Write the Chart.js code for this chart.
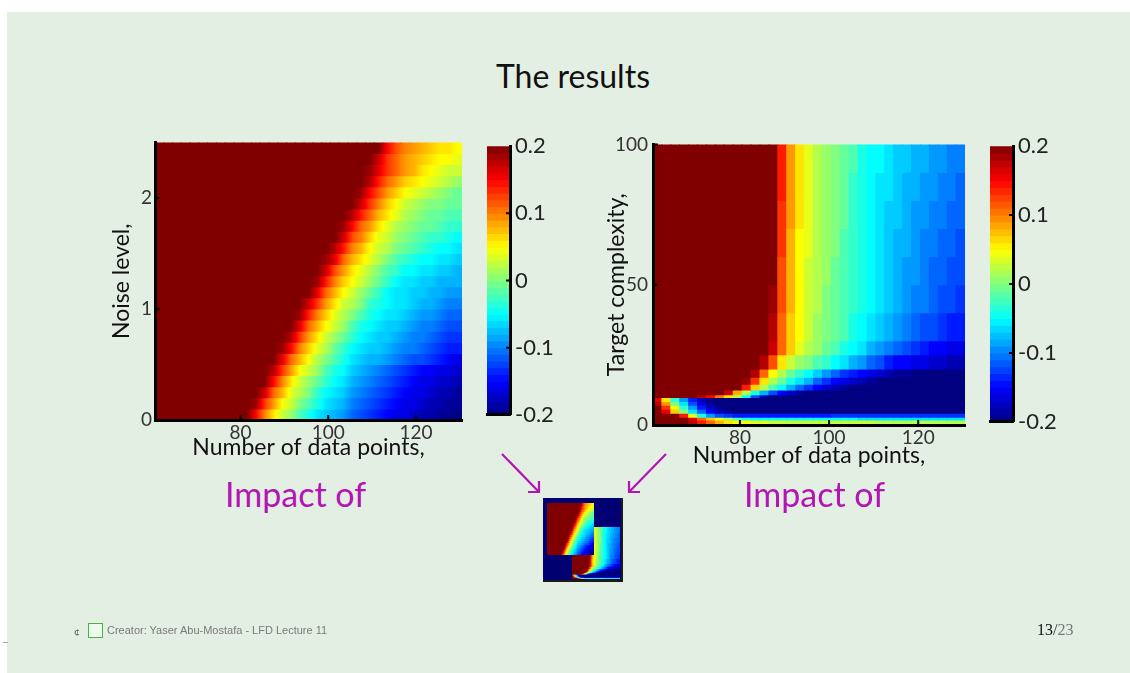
<!DOCTYPE html>
<html>
<head>
<meta charset="utf-8">
<title>The results</title>
<script src="https://cdn.jsdelivr.net/npm/chart.js@4.4.1/dist/chart.umd.min.js"></script>
<style>
  html, body { margin: 0; padding: 0; background: #fff; }
  body { position: relative; width: 1130px; height: 673px; overflow: hidden; font-family: Lato, sans-serif; }
  #slide { position: absolute; left: 7px; top: 12px; width: 1123px; height: 661px; background: #e4efe3; }
  canvas, .txt, svg, .box { position: absolute; }
  .txt { white-space: nowrap; line-height: 1; }
  .impact { color: #b414b4; font-size: 34px; top: 477px; }
</style>
</head>
<body>
<div id="slide"></div>
<div class="txt" style="left:473px;top:60px;width:200px;text-align:center;font-size:32px;color:#111">The results</div>

<canvas id="leftMap" width="372" height="340" style="left:95px;top:128px"></canvas>
<canvas id="leftBar" width="80" height="305" style="left:480px;top:128px"></canvas>
<canvas id="rightMap" width="380" height="350" style="left:590px;top:128px"></canvas>
<canvas id="rightBar" width="85" height="312" style="left:983px;top:128px"></canvas>

<div class="txt impact" style="left:225px">Impact of</div>
<div class="txt impact" style="left:744px">Impact of</div>

<svg width="1130" height="673" style="left:0;top:0">
  <g stroke="#b414b4" stroke-width="2.2" fill="none">
    <path d="M502 454 L539 492 M528 492 L539 492 L539 481"/>
    <path d="M666 454 L629 492 M640 492 L629 492 L629 481"/>
  </g>
</svg>

<div class="box" style="left:543px;top:498px;width:78px;height:82px;background:#000073;border-right:2px solid #1a1a1a;border-bottom:2px solid #1a1a1a"></div>
<canvas id="rightMini" width="48" height="52" style="left:572px;top:527px"></canvas>
<canvas id="leftMini" width="47" height="52" style="left:547px;top:503px"></canvas>

<div class="box" style="left:3px;top:642px;width:5px;height:1px;background:#aaa"></div>
<div class="txt" style="left:74px;top:626px;font-size:10px;color:#555">¢</div>
<div class="box" style="left:88px;top:623px;width:13px;height:13px;border:1.5px solid #4cae4c;background:#ecfcec"></div>
<div class="txt" style="left:107px;top:625px;font-size:11px;color:#7a7a7a;font-family:'Liberation Sans'">Creator: Yaser Abu-Mostafa - LFD Lecture 11</div>
<div class="txt" style="left:1037px;top:622px;font-size:16px;font-family:'Liberation Serif';color:#111">13<span style="color:#333">/</span><span style="color:#777">23</span></div>

<script>
// Number of data points: centres of the 2-point wide columns
const N_CENTERS = [61.5, 63.5, 65.5, 67.5, 69.5, 71.5, 73.5, 75.5, 77.5, 79.5, 81.5, 83.5,
  85.5, 87.5, 89.5, 91.5, 93.5, 95.5, 97.5, 99.5, 101.5, 103.5, 105.5, 107.5, 109.5,
  111.5, 113.5, 115.5, 117.5, 119.5, 121.5, 123.5, 125.5, 127.5, 129.5];
const N_TICKS = [80, 100, 120];

// Noise level rows (edges), bottom row first
const NOISE_EDGES = [0, 0.1, 0.2, 0.3, 0.4, 0.5, 0.6, 0.7, 0.8, 0.9, 1, 1.1, 1.2, 1.3,
  1.4, 1.5, 1.6, 1.7, 1.8, 1.9, 2, 2.1, 2.2, 2.3, 2.4, 2.5];
const NOISE_TICKS = [0, 1, 2];

// Overfit measure x100 for each noise row (one value per column), bottom row first
const NOISE_ROWS = [
  [20,20,20,20,20, 20,20,20,20,20, 20, 15,10,6,3,1,-2,-4,-6,-7,-8,-9,-11,-12,-13,-14,-15,-16,-16,-17,-18,-18,-19,-19,-20],
  [20,20,20,20,20, 20,20,20,20,20, 20, 19,13,9,5,3,0,-2,-4,-6,-7,-8,-10,-11,-12,-13,-14,-15,-16,-16,-17,-18,-18,-19,-19],
  [20,20,20,20,20, 20,20,20,20,20, 20,20, 17,11,8,4,2,0,-3,-5,-6,-7,-9,-10,-11,-12,-13,-14,-15,-16,-16,-17,-18,-18,-19],
  [20,20,20,20,20, 20,20,20,20,20, 20,20,20, 15,10,6,3,1,-1,-3,-5,-6,-8,-9,-10,-11,-12,-13,-14,-15,-16,-16,-17,-17,-18],
  [20,20,20,20,20, 20,20,20,20,20, 20,20,20, 18,13,9,5,3,1,-2,-4,-5,-7,-8,-9,-10,-11,-12,-13,-14,-15,-15,-16,-16,-17],
  [20,20,20,20,20, 20,20,20,20,20, 20,20,20,20, 16,11,8,5,2,0,-2,-4,-6,-7,-8,-8,-9,-10,-11,-12,-12,-13,-14,-15,-16],
  [20,20,20,20,20, 20,20,20,20,20, 20,20,20,20, 19,15,10,7,4,2,-1,-3,-5,-6,-7,-7,-8,-9,-10,-10,-11,-12,-13,-14,-14],
  [20,20,20,20,20, 20,20,20,20,20, 20,20,20,20,20, 18,13,9,6,3,1,-1,-3,-5,-6,-7,-7,-8,-9,-10,-10,-11,-12,-13,-13],
  [20,20,20,20,20, 20,20,20,20,20, 20,20,20,20,20, 20, 16,11,8,5,3,1,-2,-4,-5,-6,-7,-7,-8,-9,-10,-10,-11,-12,-12],
  [20,20,20,20,20, 20,20,20,20,20, 20,20,20,20,20, 20, 19,14,10,7,4,2,0,-2,-4,-5,-6,-6,-7,-8,-9,-9,-10,-11,-11],
  [20,20,20,20,20, 20,20,20,20,20, 20,20,20,20,20, 20,20, 17,13,9,6,3,2,0,-3,-4,-5,-6,-6,-7,-8,-8,-9,-10,-10],
  [20,20,20,20,20, 20,20,20,20,20, 20,20,20,20,20, 20,20,20, 16,11,8,5,3,1,-1,-3,-5,-6,-6,-7,-7,-8,-8,-9,-9],
  [20,20,20,20,20, 20,20,20,20,20, 20,20,20,20,20, 20,20,20, 19,14,10,7,5,3,1,-1,-3,-5,-6,-6,-7,-7,-8,-8,-8],
  [20,20,20,20,20, 20,20,20,20,20, 20,20,20,20,20, 20,20,20,20, 17,12,9,6,4,2,0,-2,-3,-5,-5,-6,-6,-7,-7,-8],
  [20,20,20,20,20, 20,20,20,20,20, 20,20,20,20,20, 20,20,20,20, 19,16,11,8,6,4,2,0,-2,-3,-4,-5,-5,-6,-6,-7],
  [20,20,20,20,20, 20,20,20,20,20, 20,20,20,20,20, 20,20,20,20,20, 18,14,10,8,5,3,2,0,-1,-2,-3,-4,-5,-5,-6],
  [20,20,20,20,20, 20,20,20,20,20, 20,20,20,20,20, 20,20,20,20,20, 20, 17,12,10,7,4,3,1,0,-1,-2,-3,-3,-4,-5],
  [20,20,20,20,20, 20,20,20,20,20, 20,20,20,20,20, 20,20,20,20,20, 20, 19,15,11,9,6,4,2,1,0,-1,-1,-2,-3,-3],
  [20,20,20,20,20, 20,20,20,20,20, 20,20,20,20,20, 20,20,20,20,20, 20,20, 18,14,11,8,6,4,2,1,0,-1,-1,-2,-2],
  [20,20,20,20,20, 20,20,20,20,20, 20,20,20,20,20, 20,20,20,20,20, 20,20,20, 17,13,10,7,5,3,2,1,0,0,-1,-1],
  [20,20,20,20,20, 20,20,20,20,20, 20,20,20,20,20, 20,20,20,20,20, 20,20,20, 19,15,12,9,7,5,4,3,2,1,0,-1],
  [20,20,20,20,20, 20,20,20,20,20, 20,20,20,20,20, 20,20,20,20,20, 20,20,20,20, 18,14,11,9,7,6,5,4,3,2,1],
  [20,20,20,20,20, 20,20,20,20,20, 20,20,20,20,20, 20,20,20,20,20, 20,20,20,20, 19,16,13,11,9,8,6,5,4,3,3],
  [20,20,20,20,20, 20,20,20,20,20, 20,20,20,20,20, 20,20,20,20,20, 20,20,20,20,20, 17,13,11,9,8,7,6,5,5,4],
  [20,20,20,20,20, 20,20,20,20,20, 20,20,20,20,20, 20,20,20,20,20, 20,20,20,20,20, 20, 15,12,10,9,8,7,6,6,5],
];

// Target complexity rows (edges), bottom row first
const COMPLEXITY_EDGES = [0, 1.8, 2.8, 4.2, 5.6, 7, 8.4, 9.8, 10.8, 12.5, 14.5, 17, 20,
  25, 30, 40, 50, 60, 70, 80, 90, 100];
const COMPLEXITY_TICKS = [0, 50, 100];

const COMPLEXITY_ROWS = [
  [20,20,20,20, 18,14,11,8,6,5,5,4,4,3, 3,3,3,3,3,3,3,3,3,3,3, 2,2,2,2,2,2,2,2,2,2],
  [20,20,20,20, 16,11,7,4,1,-2,-4, -5,-5,-5,-5,-5,-5,-5,-5,-5,-5,-5,-5, -6,-6,-6,-6,-6,-6,-6,-6,-6,-6,-6,-6],
  [20,20,20, 14,4,-4,-9,-12,-13, -14,-14,-14,-14,-14,-14,-14,-14,-14,-14,-14, -13,-13,-13,-13,-13,-13,-13,-13,-13,-13,-13,-13,-13,-13,-13],
  [20,16,7,0,-6,-11,-15,-18,-19, -20,-20,-20,-20,-20,-20,-20,-20,-20,-20,-20,-20,-20,-20,-20,-20,-20,-20,-20,-20,-20,-20,-20,-20,-20,-20],
  [20,13,4,-3,-9,-14,-17,-19, -20,-20,-20,-20,-20,-20,-20,-20,-20,-20,-20,-20,-20,-20,-20,-20,-20,-20,-20,-20,-20,-20,-20,-20,-20,-20,-20],
  [18,9,0,-6,-12,-16,-19, -20,-20,-20,-20,-20,-20,-20,-20,-20,-20,-20,-20,-20,-20,-20,-20,-20,-20,-20,-20,-20,-20,-20,-20,-20,-20,-20,-20],
  [16,6,-3,-9,-14,-18, -20,-20,-20,-20,-20,-20,-20,-20,-20,-20,-20,-20,-20,-20,-20,-20,-20,-20,-20,-20,-20,-20,-20,-20,-20,-20,-20,-20,-20],
  [20,20,20,20,20, 18,15,10,6,2,-5,-12,-18, -20,-20,-20,-20,-20,-20,-20,-20,-20,-20,-20,-20,-20,-20,-20,-20,-20,-20,-20,-20,-20,-20],
  [20,20,20,20,20,20,20,20, 17,8,2,-4,-8,-12,-15,-17,-19, -20,-20,-20,-20,-20,-20,-20,-20,-20,-20,-20,-20,-20,-20,-20,-20,-20,-20],
  [20,20,20,20,20,20,20,20,20,20, 14,7,2,-2,-5,-8,-11,-13,-15,-17,-18,-19, -20,-20,-20,-20,-20,-20,-20,-20,-20,-20,-20,-20,-20],
  [20,20,20,20,20,20,20,20,20,20, 19,13,6,2,-1,-4,-6,-8,-11,-13,-15,-16,-17,-18,-19, -20,-20,-20,-20,-20,-20,-20,-20,-20,-20],
  [20,20,20,20,20,20,20,20,20,20,20, 18,11,5,2,-1,-3,-5,-7,-9,-11,-13,-14,-15,-16,-17,-18,-19,-19, -20,-20,-20,-20,-20,-20],
  [20,20,20,20,20,20,20,20,20,20,20,20, 18,12,6,3,1,0,-2,-3,-5,-6,-8,-9,-11,-12,-14,-15,-15,-16,-16,-17,-17,-18,-18],
  [20,20,20,20,20,20,20,20,20,20,20,20,20, 17,11,7,4,2,1,-1,-2,-4,-5,-6,-8,-9,-10,-11,-12,-13,-14,-15,-15,-16,-16],
  [20,20,20,20,20,20,20,20,20,20,20,20,20, 18,11,7,5,3,1,0,-1,-2,-4,-5,-6,-7,-8,-9,-10,-11,-12,-12,-13,-14,-14],
  [20,20,20,20,20,20,20,20,20,20,20,20,20, 19,12,8,5,3,2,0,-1,-2,-3,-4,-5,-6,-7,-8,-9,-10,-10,-11,-12,-12,-13],
  [20,20,20,20,20,20,20,20,20,20,20,20,20,20, 12,8,5,3,2,1,-1,-2,-3,-4,-5,-6,-7,-8,-9,-9,-10,-11,-11,-12,-12],
  [20,20,20,20,20,20,20,20,20,20,20,20,20,20, 13,8,5,4,2,1,0,-2,-3,-4,-5,-6,-7,-8,-8,-9,-10,-10,-11,-11,-12],
  [20,20,20,20,20,20,20,20,20,20,20,20,20,20, 13,9,6,4,2,1,0,-1,-3,-4,-5,-6,-7,-7,-8,-9,-9,-10,-10,-11,-11],
  [20,20,20,20,20,20,20,20,20,20,20,20,20,20, 14,9,6,4,2,1,0,-1,-3,-4,-5,-6,-6,-7,-8,-8,-9,-9,-10,-10,-11],
  [20,20,20,20,20,20,20,20,20,20,20,20,20,20, 14,9,6,4,2,1,0,-1,-2,-4,-5,-5,-6,-7,-7,-8,-8,-9,-9,-10,-10],
];

// Colour bar levels (lower edge of each 0.01 band) and its ticks
const CB_LEVELS = [-0.20, -0.19, -0.18, -0.17, -0.16, -0.15, -0.14, -0.13, -0.12, -0.11,
  -0.10, -0.09, -0.08, -0.07, -0.06, -0.05, -0.04, -0.03, -0.02, -0.01,
  0.00, 0.01, 0.02, 0.03, 0.04, 0.05, 0.06, 0.07, 0.08, 0.09,
  0.10, 0.11, 0.12, 0.13, 0.14, 0.15, 0.16, 0.17, 0.18, 0.19];
const CB_TICKS = [-0.2, -0.1, 0, 0.1, 0.2];

const TICK_FONT = { family: 'Lato', size: 19 };
const TITLE_FONT = { family: 'Lato', size: 23 };
const CB_FONT = { family: 'Lato', size: 22 };
const TICK_COLOR = '#333';
const NO_OVERFLOW = { top: 0, right: 0, bottom: 0, left: 0 };

// MATLAB style jet colormap over [-0.2, 0.2]
function jet(v) {
  const t = Math.max(0, Math.min(1, (v + 0.2) / 0.4));
  const c = k => Math.round(255 * Math.max(0, Math.min(1, 1.5 - Math.abs(4 * t - k))));
  return `rgb(${c(3)},${c(2)},${c(1)})`;
}

// short black tick marks drawn inside the plot box
const innerTicks = {
  id: 'innerTicks',
  afterDraw(chart, args, opts) {
    if (!opts.len) return;
    const { ctx, chartArea: a } = chart;
    ctx.save();
    ctx.strokeStyle = '#000';
    ctx.lineWidth = 2;
    ctx.beginPath();
    (opts.x || []).forEach(v => {
      const px = chart.scales.x.getPixelForValue(v);
      ctx.moveTo(px, a.bottom);
      ctx.lineTo(px, a.bottom - opts.len);
    });
    (opts.y || []).forEach(v => {
      const py = chart.scales.y.getPixelForValue(v);
      const x0 = opts.side === 'right' ? a.right : a.left;
      ctx.moveTo(x0, py);
      ctx.lineTo(opts.side === 'right' ? x0 - opts.len : x0 + opts.len, py);
    });
    ctx.stroke();
    ctx.restore();
  },
};
Chart.register(innerTicks);

const fixTicks = list => s => { s.ticks = list.map(v => ({ value: v })); };

function buildCells(rows, edges) {
  const cells = [];
  rows.forEach((row, i) => {
    row.forEach((v, j) => {
      cells.push({ x: N_CENTERS[j], y: [edges[i], edges[i + 1]] });
    });
  });
  return cells;
}

// flat colour per cell (blocky map, as in the complexity plot)
function flatFill(rows) {
  const colors = [];
  rows.forEach(row => row.forEach(v => colors.push(jet(v / 100))));
  return colors;
}

// shaded cell: runs from half-way to the left neighbour, through its own value,
// to half-way to the right neighbour (the noise plot is drawn smooth)
function smoothFill(rows) {
  const nCols = N_CENTERS.length;
  return c => {
    if (c.type !== 'data' || c.dataIndex === undefined) return jet(0.2);
    const i = Math.floor(c.dataIndex / nCols);
    const j = c.dataIndex % nCols;
    const row = rows[i];
    const v = row[j] / 100;
    const xs = c.chart.scales && c.chart.scales.x;
    if (!xs) return jet(v);
    const x0 = xs.getPixelForValue(N_CENTERS[j] - 1);
    const x1 = xs.getPixelForValue(N_CENTERS[j] + 1);
    if (!isFinite(x0) || !isFinite(x1) || x1 <= x0) return jet(v);
    const vl = (row[Math.max(0, j - 1)] / 100 + v) / 2;
    const vr = (row[Math.min(nCols - 1, j + 1)] / 100 + v) / 2;
    const g = c.chart.ctx.createLinearGradient(x0, 0, x1, 0);
    g.addColorStop(0, jet(vl));
    g.addColorStop(0.25, jet((vl + v) / 2));
    g.addColorStop(0.5, jet(v));
    g.addColorStop(0.75, jet((v + vr) / 2));
    g.addColorStop(1, jet(vr));
    return g;
  };
}

/**
 * Heatmap as floating bars on a linear x axis.
 * axes == null draws the small thumbnail version with no axes.
 */
function renderHeatmap(id, rows, edges, smooth, axes) {
  const mini = !axes;
  const yMax = edges[edges.length - 1];

  const chart = new Chart(document.getElementById(id), {
    type: 'bar',
    data: {
      datasets: [{
        data: buildCells(rows, edges),
        backgroundColor: smooth ? smoothFill(rows) : flatFill(rows),
        borderWidth: 0,
        inflateAmount: 0.5,
        clip: NO_OVERFLOW,
        barPercentage: 1,
        categoryPercentage: 1,
      }],
    },
    options: {
      responsive: false,
      animation: false,
      events: [],
      layout: { padding: mini ? 0 : axes.padding },
      plugins: {
        legend: { display: false },
        tooltip: { enabled: false },
        innerTicks: mini ? { len: 0 } : { len: 5, x: N_TICKS, y: axes.yTicks },
      },
      scales: {
        x: {
          type: 'linear',
          display: !mini,
          min: 60.5,
          max: 130.5,
          offset: false,
          afterBuildTicks: fixTicks(mini ? [] : N_TICKS),
          afterFit: s => { if (!mini) s.height = axes.xHeight; },
          ticks: { font: TICK_FONT, color: TICK_COLOR, padding: 1, maxRotation: 0 },
          grid: { display: false, drawTicks: false, offset: false },
          border: { color: '#000', width: 3, z: 1 },
          title: {
            display: !mini,
            text: 'Number of data points,',
            font: TITLE_FONT,
            color: '#111',
            padding: { top: 0, bottom: mini ? 0 : axes.xTitlePad },
          },
        },
        y: {
          type: 'linear',
          display: !mini,
          min: 0,
          max: yMax,
          afterBuildTicks: fixTicks(mini ? [] : axes.yTicks),
          afterFit: s => { if (!mini) s.width = axes.yWidth; },
          ticks: { font: TICK_FONT, color: TICK_COLOR, padding: axes ? axes.yTickPad : 0 },
          grid: { display: false, drawTicks: false },
          border: { color: '#000', width: 3, z: 1 },
          title: {
            display: !mini,
            text: mini ? '' : axes.yTitle,
            font: TITLE_FONT,
            color: '#111',
            padding: { top: 13, bottom: 0 },
          },
        },
      },
    },
  });
  // second pass so the shaded fills are built with laid-out scales
  if (smooth) chart.update('none');
}

function renderColorbar(id, padding, yWidth) {
  new Chart(document.getElementById(id), {
    type: 'bar',
    data: {
      labels: ['cb'],
      datasets: [{
        data: CB_LEVELS.map(v => ({ x: 'cb', y: [v, v + 0.01] })),
        backgroundColor: CB_LEVELS.map(v => jet(v + 0.005)),
        borderWidth: 0,
        inflateAmount: 0.5,
        clip: NO_OVERFLOW,
        barPercentage: 1,
        categoryPercentage: 1,
      }],
    },
    options: {
      responsive: false,
      animation: false,
      events: [],
      layout: { padding },
      plugins: {
        legend: { display: false },
        tooltip: { enabled: false },
        innerTicks: { len: 4, y: CB_TICKS.slice(1, -1), side: 'right' },
      },
      scales: {
        x: {
          ticks: { display: false },
          grid: { display: false, drawTicks: false },
          border: { color: '#000', width: 3, z: 1 },
          afterFit: s => { s.height = 2; },
        },
        y: {
          position: 'right',
          min: -0.2,
          max: 0.2,
          afterBuildTicks: fixTicks(CB_TICKS),
          afterFit: s => { s.width = yWidth; },
          ticks: {
            font: CB_FONT,
            color: '#222',
            padding: 5,
            callback: v => (Math.abs(v) < 1e-9 ? '0' : v.toFixed(1)),
          },
          grid: { display: false, drawTicks: false },
          border: { color: '#000', width: 3, z: 1 },
        },
      },
    },
  });
}

renderHeatmap('leftMap', NOISE_ROWS, NOISE_EDGES, true, {
  padding: { top: 12, right: 5, left: 0, bottom: 0 },
  yTicks: NOISE_TICKS,
  yTitle: 'Noise level,',
  yWidth: 60,
  yTickPad: 3,
  xHeight: 48,
  xTitlePad: 7,
});
renderHeatmap('rightMap', COMPLEXITY_ROWS, COMPLEXITY_EDGES, false, {
  padding: { top: 13, right: 5, left: 0, bottom: 0 },
  yTicks: COMPLEXITY_TICKS,
  yTitle: 'Target complexity,',
  yWidth: 63,
  yTickPad: 5,
  xHeight: 53,
  xTitlePad: 9,
});
renderColorbar('leftBar', { top: 10, left: 7, right: 0, bottom: 13 }, 50);
renderColorbar('rightBar', { top: 12, left: 7, right: 0, bottom: 13 }, 55);
renderHeatmap('leftMini', NOISE_ROWS, NOISE_EDGES, true, null);
renderHeatmap('rightMini', COMPLEXITY_ROWS, COMPLEXITY_EDGES, false, null);
</script>
</body>
</html>
